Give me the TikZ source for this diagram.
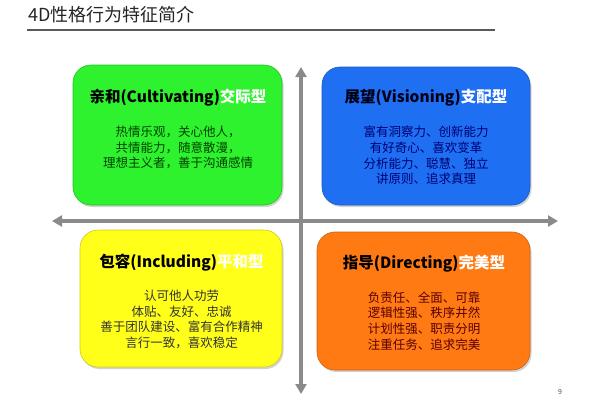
\documentclass[tikz,border=0pt]{standalone}
\usepackage{fontspec}
\setmainfont{Noto Sans CJK SC}
\usetikzlibrary{arrows.meta,shadows}
\definecolor{cgreen}{HTML}{2EF22E}
\definecolor{cblue}{HTML}{1F6FF2}
\definecolor{cyellow}{HTML}{FFFF1A}
\definecolor{corange}{HTML}{FF7A12}
\definecolor{axisgray}{HTML}{8A8A8A}
\tikzset{
  quad/.style={rounded corners=18pt, draw=#1!80!black, line width=0.6pt, fill=#1,
    drop shadow={shadow xshift=1.5pt, shadow yshift=-2pt, opacity=0.35}},
  qtitle/.style={font=\fontsize{15.5}{18}\selectfont\bfseries, inner sep=0pt},
  qbody/.style={font=\fontsize{12.5}{15.7}\selectfont, align=center, inner sep=0pt},
  axis/.style={draw=axisgray, line width=3.6pt, {Triangle[length=10pt,width=11pt]}-{Triangle[length=10pt,width=11pt]}},
}
\begin{document}
\begin{tikzpicture}[x=1pt,y=-1pt]
\useasboundingbox (0,0) rectangle (600,400);
\fill[white] (0,0) rectangle (600,400);
% title
\node[anchor=west, inner sep=0pt, font=\fontsize{18}{21}\selectfont, text=black!85] (title) at (28,15) {4D性格行为特征简介};
\coordinate (tl) at (27,30);
\coordinate (tr) at (495,30);
\draw[line width=1.6pt, black!65] (tl) -- (tr);
% axes
\coordinate (hl) at (52,221);
\coordinate (hr) at (558,221);
\coordinate (vt) at (301,67);
\coordinate (vb) at (301,394);
\draw[axis] (hl) -- (hr);
\draw[axis] (vt) -- (vb);
% boxes
\node[quad=cgreen, minimum width=209pt, minimum height=140pt] (green) at (177.5,135) {};
\node[quad=cblue, minimum width=208pt, minimum height=138pt] (blue) at (426,136) {};
\node[quad=cyellow, minimum width=202pt, minimum height=137pt] (yellow) at (181,298.5) {};
\node[quad=corange, minimum width=213pt, minimum height=138pt] (orange) at (423.5,301) {};
% titles
\node[qtitle] (gt) at (178,98) {亲和(Cultivating)\textcolor{white}{交际型}};
\node[qtitle, text=black!90!blue] (bt) at (426,98) {展望(Visioning)\textcolor{white}{支配型}};
\node[qtitle] (yt) at (181.5,263) {包容(Including)\textcolor{white}{平和型}};
\node[qtitle] (ot) at (424,264) {指导(Directing)\textcolor{white}{完美型}};
% bodies
\node[qbody, text=black!75!green] (gb) at (178,147.7) {热情乐观，关心他人，\\共情能力，随意散漫，\\理想主义者，善于沟通感情};
\node[qbody, text=blue!45!black] (bb) at (426,155.5) {富有洞察力、创新能力\\有好奇心、喜欢变革\\分析能力、聪慧、独立\\讲原则、追求真理};
\node[qbody, text=black!80] (yb) at (181.5,319.5) {认可他人功劳\\体贴、友好、忠诚\\善于团队建设、富有合作精神\\言行一致，喜欢稳定};
\node[qbody, text=red!35!black] (ob) at (424,321) {负责任、全面、可靠\\逻辑性强、秩序井然\\计划性强、职责分明\\注重任务、追求完美};
% page number
\node[font=\fontsize{7}{8}\selectfont, text=black!70] (pg) at (560,392) {9};
\end{tikzpicture}
\end{document}
